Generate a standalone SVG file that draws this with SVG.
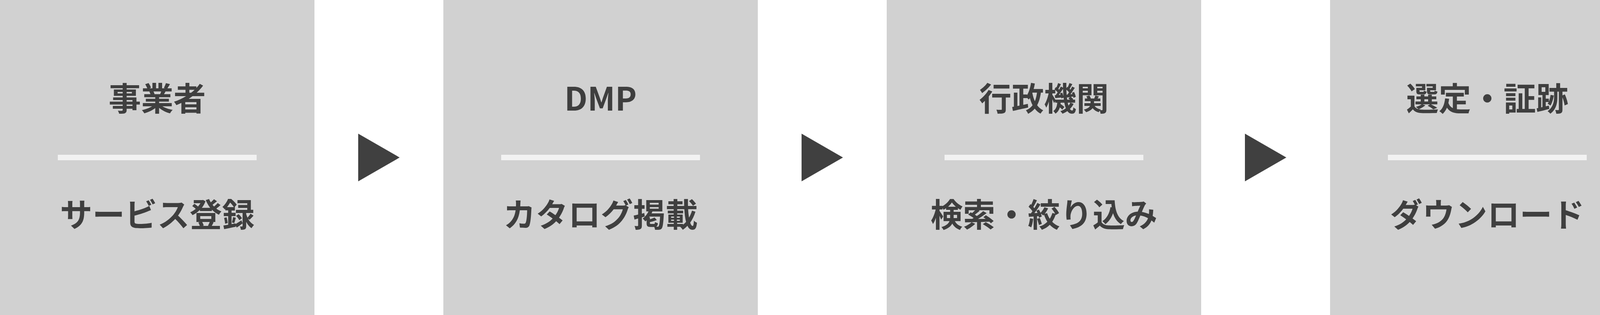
<svg xmlns="http://www.w3.org/2000/svg" width="5345" height="806" viewBox="0 0 5345 806">
<style>
.box{fill:#d1d1d1}
.div{fill:#f2f2f2}
.t{font-family:"Noto Sans CJK JP","Noto Sans",sans-serif;font-weight:700;font-size:83px;fill:#3f3f3f;text-anchor:middle}
.arr{fill:#404040}
</style>
<rect width="5345" height="806" fill="#ffffff"/>
<g id="node1">
<rect class="box" x="0" y="0" width="805" height="806"/>
<text class="t" x="402.5" y="283">事業者</text>
<rect class="div" x="148" y="396" width="509" height="14"/>
<text class="t" x="402.5" y="580">サービス登録</text>
</g>
<g id="node2">
<rect class="box" x="1135" y="0" width="805" height="806"/>
<text class="t" x="1537.5" y="283">DMP</text>
<rect class="div" x="1283" y="396" width="509" height="14"/>
<text class="t" x="1537.5" y="580">カタログ掲載</text>
</g>
<g id="node3">
<rect class="box" x="2270" y="0" width="805" height="806"/>
<text class="t" x="2672.5" y="283">行政機関</text>
<rect class="div" x="2418" y="396" width="509" height="14"/>
<text class="t" x="2672.5" y="580">検索・絞り込み</text>
</g>
<g id="node4">
<rect class="box" x="3405" y="0" width="805" height="806"/>
<text class="t" x="3807.5" y="283">選定・証跡</text>
<rect class="div" x="3553" y="396" width="509" height="14"/>
<text class="t" x="3807.5" y="580">ダウンロード</text>
</g>
<g id="node5">
<rect class="box" x="4540" y="0" width="805" height="806"/>
<text class="t" x="4942.5" y="283">個別契約</text>
<rect class="div" x="4688" y="396" width="509" height="14"/>
<text class="t" x="4942.5" y="580">締結</text>
</g>
<g id="connectors">
<polygon class="arr" points="917,342 1023,403 917,464"/>
<polygon class="arr" points="2052,342 2158,403 2052,464"/>
<polygon class="arr" points="3187,342 3293,403 3187,464"/>
<polygon class="arr" points="4322,342 4428,403 4322,464"/>
</g>
</svg>
